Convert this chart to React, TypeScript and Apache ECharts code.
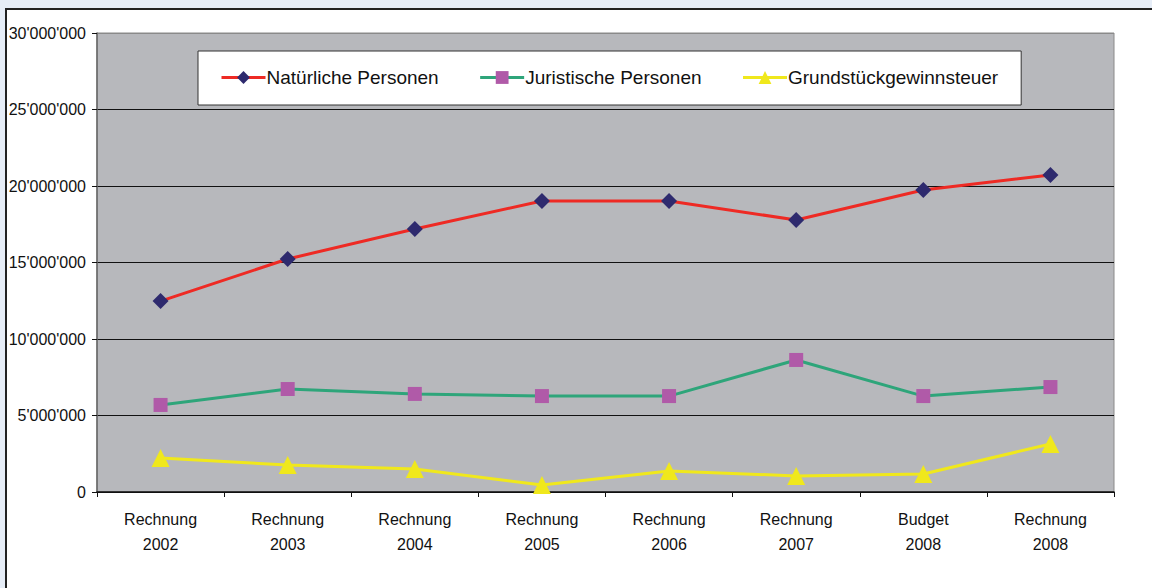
import React, { useEffect, useRef } from "react";
import * as echarts from "echarts";

const categories = [
  "Rechnung\n2002",
  "Rechnung\n2003",
  "Rechnung\n2004",
  "Rechnung\n2005",
  "Rechnung\n2006",
  "Rechnung\n2007",
  "Budget\n2008",
  "Rechnung\n2008",
];
const natuerliche = [12480000, 15230000, 17190000, 19020000, 19020000, 17780000, 19740000, 20720000];
const juristische = [5690000, 6730000, 6410000, 6270000, 6270000, 8630000, 6270000, 6860000];
const grundstueck = [2220000, 1760000, 1500000, 460000, 1370000, 1050000, 1180000, 3140000];

const fmt = (v: number) => {
  const s = Math.round(v).toString();
  return s.replace(/\B(?=(\d{3})+(?!\d))/g, "'");
};

export default function App() {
  const ref = useRef<HTMLDivElement>(null);
  useEffect(() => {
    if (!ref.current) return;
    const chart = echarts.init(ref.current, undefined, { renderer: "svg" });
    const font = "'Liberation Sans', Arial, sans-serif";
    chart.setOption({
      animation: false,
      textStyle: { fontFamily: font },
      grid: {
        left: 97,
        right: 38,
        top: 33,
        bottom: 96,
        show: true,
        backgroundColor: "#b7b8bc",
        borderColor: "#8a8a8a",
        borderWidth: 1,
      },
      legend: {
        left: 198,
        top: 51,
        padding: [17, 23, 18, 22],
        backgroundColor: "#ffffff",
        borderColor: "#333333",
        borderWidth: 1,
        itemWidth: 44,
        itemHeight: 16,
        itemGap: 40,
        lineStyle: { width: 3 },
        textStyle: { fontSize: 19, color: "#111", fontFamily: font, padding: [0, 0, 0, -4] },
        data: ["Natürliche Personen", "Juristische Personen", "Grundstückgewinnsteuer"],
      },
      xAxis: {
        type: "category",
        data: categories,
        boundaryGap: true,
        axisLine: { show: true, lineStyle: { color: "#111", width: 1.5 } },
        axisTick: { show: true, length: 5, lineStyle: { color: "#111" } },
        axisLabel: { fontSize: 16, color: "#111", lineHeight: 25, margin: 15, fontFamily: font },
      },
      yAxis: {
        type: "value",
        min: 0,
        max: 30000000,
        interval: 5000000,
        axisLine: { show: true, lineStyle: { color: "#666", width: 1.5 } },
        axisTick: { show: true, length: 5, lineStyle: { color: "#111" } },
        axisLabel: { fontSize: 16, color: "#111", margin: 11, formatter: fmt, fontFamily: font },
        splitLine: {
          show: true,
          lineStyle: { color: ["#111", "#111", "#111", "#111", "#111", "#111", "#8a8a8a"], width: 1 },
        },
      },
      series: [
        {
          name: "Natürliche Personen",
          type: "line",
          data: natuerliche,
          symbol: "diamond",
          symbolSize: 16,
          lineStyle: { color: "#ee2a24", width: 3 },
          itemStyle: { color: "#2e2a6e" },
          z: 3,
        },
        {
          name: "Juristische Personen",
          type: "line",
          data: juristische,
          symbol: "rect",
          symbolSize: 14,
          lineStyle: { color: "#2ea57a", width: 3 },
          itemStyle: { color: "#b05aa8" },
          z: 3,
        },
        {
          name: "Grundstückgewinnsteuer",
          type: "line",
          data: grundstueck,
          symbol: "triangle",
          symbolSize: 18,
          lineStyle: { color: "#f0e81c", width: 3 },
          itemStyle: { color: "#f0e81c" },
          z: 3,
        },
      ],
    });
    return () => chart.dispose();
  }, []);

  return (
    <div style={{ position: "fixed", left: 0, top: 0, width: 1152, height: 588, background: "#e6edf7" }}>
      <div
        style={{
          position: "absolute",
          left: 5,
          top: 8,
          width: 1147,
          height: 580,
          background: "#ffffff",
          borderTop: "2px solid #222",
          borderLeft: "2px solid #222",
          boxSizing: "border-box",
        }}
      />
      <div ref={ref} style={{ position: "absolute", left: 0, top: 0, width: 1152, height: 588 }} />
    </div>
  );
}
